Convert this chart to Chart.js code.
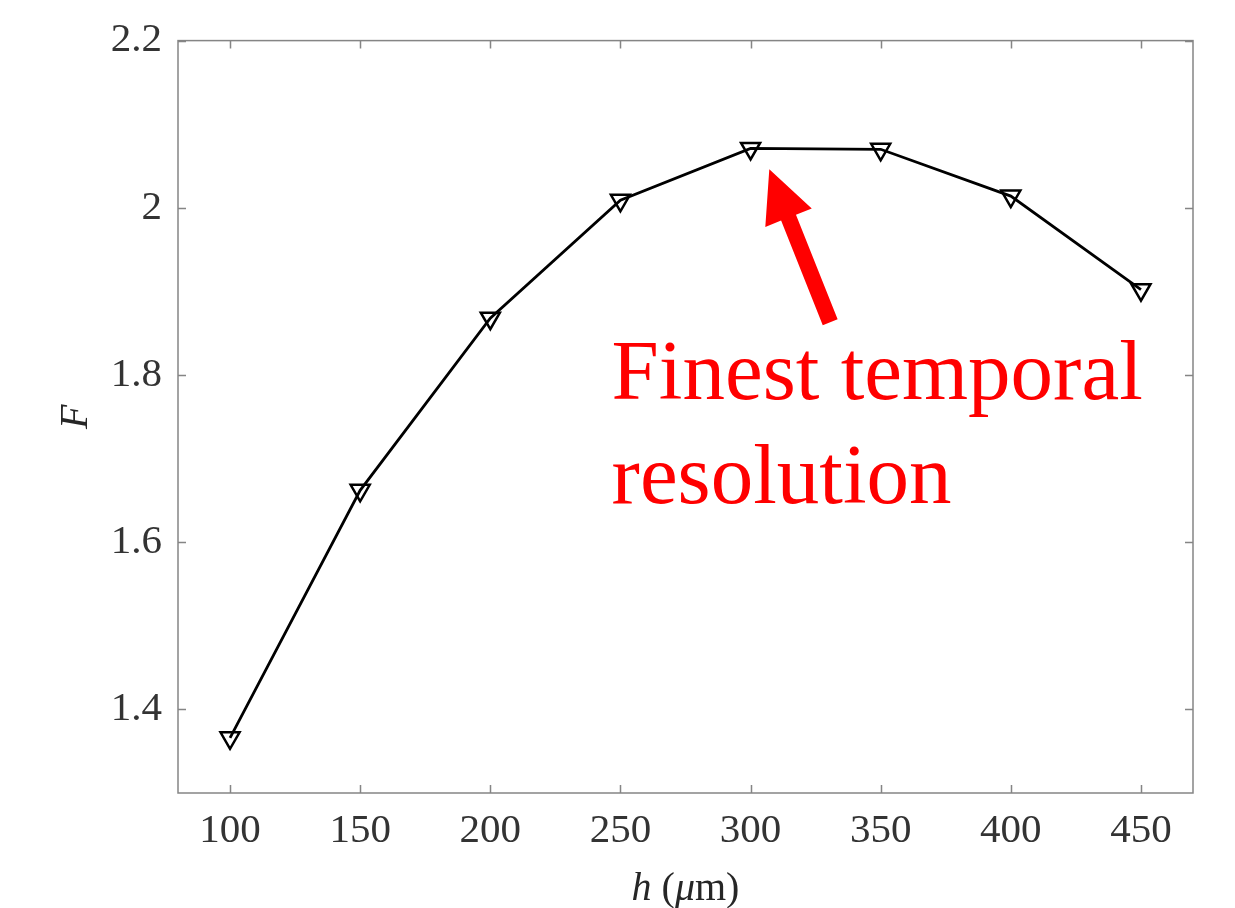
<!DOCTYPE html>
<html>
<head>
<meta charset="utf-8">
<script src="https://cdn.jsdelivr.net/npm/chart.js@4.4.0/dist/chart.umd.min.js"></script>
<style>
  html, body { margin: 0; padding: 0; background: #fff; }
  #wrap { width: 1235px; height: 908px; position: relative; }
</style>
</head>
<body>
<div id="wrap"><canvas id="c"></canvas></div>
<script>
// ---- data ----
const hValues = [100, 150, 200, 250, 300, 350, 400, 450];
const fValues = [1.366, 1.662, 1.868, 2.009, 2.071, 2.070, 2.014, 1.902];
const xTicks = [100, 150, 200, 250, 300, 350, 400, 450];
const yTicks = [1.4, 1.6, 1.8, 2.0, 2.2];
const xRange = [80, 470];
const yRange = [1.3, 2.2];
const annotationLines = ['Finest temporal', 'resolution'];
// annotation anchor points in data units
const arrowTip = [307.2, 2.046];
const arrowTail = [330.6, 1.863];
const textAnchor = [246.6, 1.771];
const textLine2 = 1.647;

const SERIF = '"Liberation Serif", "Times New Roman", serif';

const boxPlugin = {
  id: 'boxPlugin',
  afterDraw(chart) {
    const ctx = chart.ctx;
    const a = chart.chartArea;
    const xs = chart.scales.x, ys = chart.scales.y;
    ctx.save();
    // box
    ctx.strokeStyle = '#858585';
    ctx.lineWidth = 1.5;
    ctx.strokeRect(a.left, a.top, a.right - a.left, a.bottom - a.top);
    // inward ticks
    const tl = 8;
    ctx.beginPath();
    xTicks.forEach(v => {
      const px = Math.round(xs.getPixelForValue(v)) + 0.5;
      ctx.moveTo(px, a.bottom); ctx.lineTo(px, a.bottom - tl);
      ctx.moveTo(px, a.top); ctx.lineTo(px, a.top + tl);
    });
    yTicks.forEach(v => {
      const py = Math.round(ys.getPixelForValue(v)) + 0.5;
      ctx.moveTo(a.left, py); ctx.lineTo(a.left + tl, py);
      ctx.moveTo(a.right, py); ctx.lineTo(a.right - tl, py);
    });
    ctx.stroke();

    // axis titles
    ctx.fillStyle = '#262626';
    ctx.textBaseline = 'alphabetic';
    // x title: h (μm)
    const parts = [
      { t: 'h', italic: true },
      { t: ' (', italic: false },
      { t: 'μ', italic: true },
      { t: 'm)', italic: false }
    ];
    const fs = 40;
    let total = 0;
    parts.forEach(p => {
      ctx.font = (p.italic ? 'italic ' : '') + fs + 'px ' + SERIF;
      p.w = ctx.measureText(p.t).width;
      total += p.w;
    });
    let cx = (a.left + a.right) / 2 - total / 2;
    const by = 900;
    parts.forEach(p => {
      ctx.font = (p.italic ? 'italic ' : '') + fs + 'px ' + SERIF;
      ctx.textAlign = 'left';
      ctx.fillText(p.t, cx, by);
      cx += p.w;
    });
    // y title: F
    ctx.save();
    ctx.translate(87, (a.top + a.bottom) / 2);
    ctx.rotate(-Math.PI / 2);
    ctx.font = 'italic 40px ' + SERIF;
    ctx.textAlign = 'center';
    ctx.fillText('F', 0, 0);
    ctx.restore();

    // annotation arrow
    const tx = xs.getPixelForValue(arrowTip[0]), ty = ys.getPixelForValue(arrowTip[1]);
    const sx = xs.getPixelForValue(arrowTail[0]), sy = ys.getPixelForValue(arrowTail[1]);
    const ang = Math.atan2(ty - sy, tx - sx);
    const len = Math.hypot(tx - sx, ty - sy);
    const headLen = 52, headHalf = 25, shaftHalf = 8;
    ctx.save();
    ctx.translate(sx, sy);
    ctx.rotate(ang);
    ctx.fillStyle = '#ff0000';
    ctx.beginPath();
    ctx.moveTo(0, -shaftHalf);
    ctx.lineTo(len - headLen, -shaftHalf);
    ctx.lineTo(len - headLen, -headHalf);
    ctx.lineTo(len, 0);
    ctx.lineTo(len - headLen, headHalf);
    ctx.lineTo(len - headLen, shaftHalf);
    ctx.lineTo(0, shaftHalf);
    ctx.closePath();
    ctx.fill();
    ctx.restore();

    // annotation text
    ctx.fillStyle = '#ff0000';
    ctx.font = '85px ' + SERIF;
    ctx.textAlign = 'left';
    const ax = xs.getPixelForValue(textAnchor[0]);
    ctx.fillText(annotationLines[0], ax, ys.getPixelForValue(textAnchor[1]));
    ctx.fillText(annotationLines[1], ax, ys.getPixelForValue(textLine2));
    ctx.restore();
  }
};

new Chart(document.getElementById('c'), {
  type: 'line',
  data: {
    datasets: [{
      data: hValues.map((h, i) => ({ x: h, y: fValues[i] })),
      borderColor: '#000',
      borderWidth: 2.8,
      pointStyle: 'triangle',
      rotation: 180,
      pointRadius: 11,
      pointBorderWidth: 2.5,
      pointBorderColor: '#000',
      pointBackgroundColor: 'rgba(255,255,255,0)',
      tension: 0,
      fill: false
    }]
  },
  options: {
    responsive: true,
    maintainAspectRatio: false,
    animation: false,
    layout: { padding: { top: 40, right: 42, left: 0, bottom: 0 } },
    plugins: { legend: { display: false }, tooltip: { enabled: false } },
    scales: {
      x: {
        type: 'linear',
        min: xRange[0], max: xRange[1],
        grid: { display: false, drawTicks: false },
        border: { display: false },
        afterBuildTicks: s => { s.ticks = xTicks.map(v => ({ value: v })); },
        afterFit: s => { s.height = 115; },
        ticks: {
          padding: 14,
          color: '#333',
          font: { family: SERIF, size: 41 },
          maxRotation: 0,
          callback: v => String(v)
        }
      },
      y: {
        type: 'linear',
        min: yRange[0], max: yRange[1],
        grid: { display: false, drawTicks: false },
        border: { display: false },
        afterBuildTicks: s => { s.ticks = yTicks.map(v => ({ value: v })); },
        afterFit: s => { s.width = 178; },
        ticks: {
          padding: 16,
          color: '#333',
          font: { family: SERIF, size: 41 },
          callback: v => String(Math.round(v * 10) / 10)
        }
      }
    }
  },
  plugins: [boxPlugin]
});
</script>
</body>
</html>
